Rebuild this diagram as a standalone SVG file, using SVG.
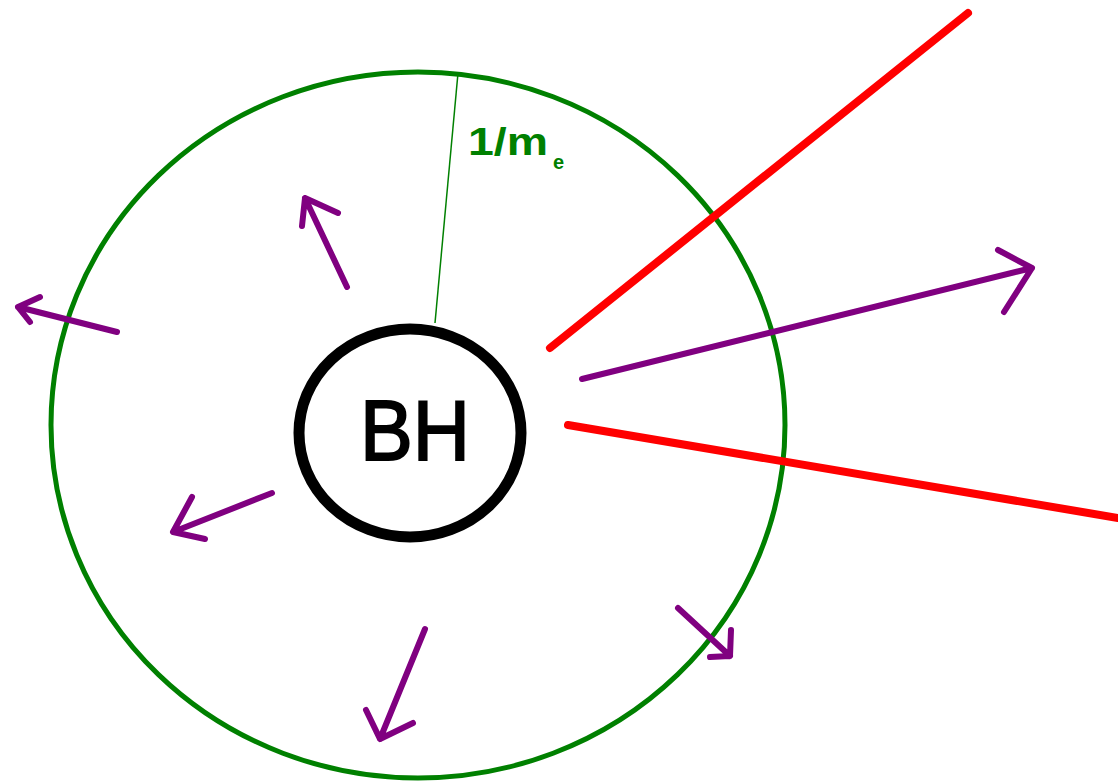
<svg xmlns="http://www.w3.org/2000/svg" width="1118" height="781" viewBox="0 0 1118 781">
<style>
.arr{fill:none;stroke:#800080;stroke-width:6;stroke-linecap:round;stroke-linejoin:round}
.ray{fill:none;stroke:#ff0000;stroke-width:8;stroke-linecap:round}
.lbl{font-family:"Liberation Sans",Arial,sans-serif}
</style>
<rect width="1118" height="781" fill="#ffffff"/>
<g id="horizon-region">
<ellipse cx="418" cy="425" rx="367" ry="353" fill="none" stroke="#008000" stroke-width="5"/>
<line x1="458" y1="73" x2="435" y2="323" stroke="#008000" stroke-width="1.5"/>
<text class="lbl" x="468" y="155" font-size="39" font-weight="bold" fill="#008000" textLength="80" lengthAdjust="spacingAndGlyphs">1/m</text>
<text class="lbl" x="553" y="169" font-size="20" font-weight="bold" fill="#008000">e</text>
</g>
<g id="bh">
<ellipse cx="410" cy="433" rx="111" ry="104" fill="none" stroke="#000000" stroke-width="11"/>
<text class="lbl" x="415" y="460" font-size="86" text-anchor="middle" fill="#000000" stroke="#000000" stroke-width="2" textLength="110" lengthAdjust="spacingAndGlyphs">BH</text>
</g>
<g id="connectors">
<line class="ray" x1="550" y1="348" x2="968" y2="13"/>
<line class="ray" x1="568" y1="425" x2="1118" y2="518"/>
<path class="arr" d="M582,379 L1032,268 M998,250 L1032,268 L1004,312"/>
<path class="arr" d="M117,332 L18,307 M40,297 L18,307 L30,322"/>
<path class="arr" d="M347,287 L305,198 M338,213 L305,198 L302,226"/>
<path class="arr" d="M272,493 L173,532 M192,497 L173,532 L205,539"/>
<path class="arr" d="M425,629 L380,739 M366,710 L380,739 L413,723"/>
<path class="arr" d="M678,608 L730,656 M731,630 L730,656 L710,657"/>
</g>
</svg>
